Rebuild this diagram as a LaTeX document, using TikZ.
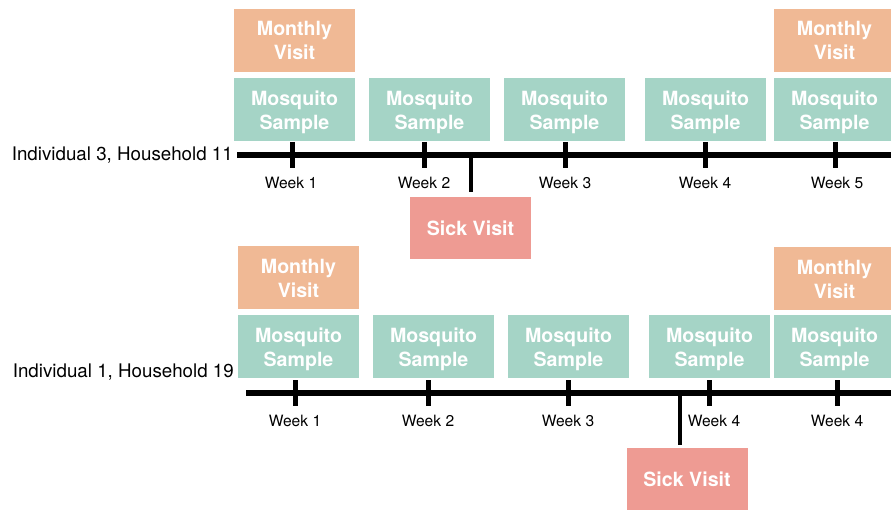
\documentclass[tikz,border=0pt]{standalone}
\usepackage{fontspec}
\setmainfont{TeX Gyre Heros}
\usetikzlibrary{positioning, calc}
\definecolor{monthc}{HTML}{F0B995}
\definecolor{mosqc}{HTML}{A5D4C6}
\definecolor{sickc}{HTML}{EE9B93}
\tikzset{
  evbox/.style={text=white, inner sep=0pt, minimum width=121pt, minimum height=63pt,
    align=center, font=\fontsize{19.6}{24}\selectfont\bfseries},
  mosq/.style={evbox, fill=mosqc, text height=40pt, text depth=0pt},
  monthly/.style={evbox, fill=monthc},
  sick/.style={evbox, fill=sickc, minimum height=62pt},
  axis/.style={line width=6pt},
  tickmark/.style={line width=5pt},
  sickline/.style={line width=4.5pt},
  wklabel/.style={font=\fontsize{15.6}{18}\selectfont},
  who/.style={anchor=east, inner sep=0pt, font=\fontsize{18.75}{22}\selectfont}
}
\begin{document}
\begin{tikzpicture}[x=1pt, y=-1pt]
\useasboundingbox (0,0) rectangle (891,510);
\def\ya{155}\def\yb{393}
% ---- Individual 3, Household 11
\node[who] (ind3) at (233,\ya) {Individual 3, Household 11};
\coordinate (a0) at (237,\ya);
\coordinate (a1) at (895,\ya);
\draw[axis] (a0) -- (a1);
\foreach \n/\x/\bx/\lx in {1/292/294.5/291, 2/424/429.5/424, 3/565/564.5/565, 4/705/705.5/705, 5/835/834.5/837}{
  \node[mosq] (ams\n) at (\bx,109.5) {Mosquito\\Sample};
  \draw[tickmark] (\x,142) -- (\x,168);
  \node[wklabel] (awk\n) at (\lx,183) {Week \n};}
\node[monthly] (amv1) at (294.5,40.5) {Monthly\\Visit};
\node[monthly] (amv5) at (834.5,40.5) {Monthly\\Visit};
% sick visit between week 2 and 3
\node[sick] (asick) at (470.5,228) {Sick Visit};
\coordinate (asv) at (471,\ya);
\draw[sickline, shorten >=5pt] (asv) -- (asv |- asick.north);
% ---- Individual 1, Household 19
\node[who] (ind1) at (234,372) {Individual 1, Household 19};
\coordinate (b0) at (246,\yb);
\coordinate (b1) at (895,\yb);
\draw[axis] (b0) -- (b1);
\foreach \n/\x/\bx/\lx/\wk in {1/295/298.5/295/1, 2/428/433.5/428/2, 3/568/568.5/568/3, 4/709/709.5/714/4, 5/837/834.5/837/4}{
  \node[mosq] (bms\n) at (\bx,346.5) {Mosquito\\Sample};
  \draw[tickmark] (\x,380) -- (\x,406);
  \node[wklabel] (bwk\n) at (\lx,421) {Week \wk};}
\node[monthly] (bmv1) at (298.5,278) {Monthly\\Visit};
\node[monthly] (bmv5) at (834.5,279) {Monthly\\Visit};
% sick visit between week 3 and 4
\node[sick] (bsick) at (687,479) {Sick Visit};
\coordinate (bsv) at (680,\yb);
\draw[sickline, shorten >=3pt] (bsv) -- (bsv |- bsick.north);
\end{tikzpicture}
\end{document}
